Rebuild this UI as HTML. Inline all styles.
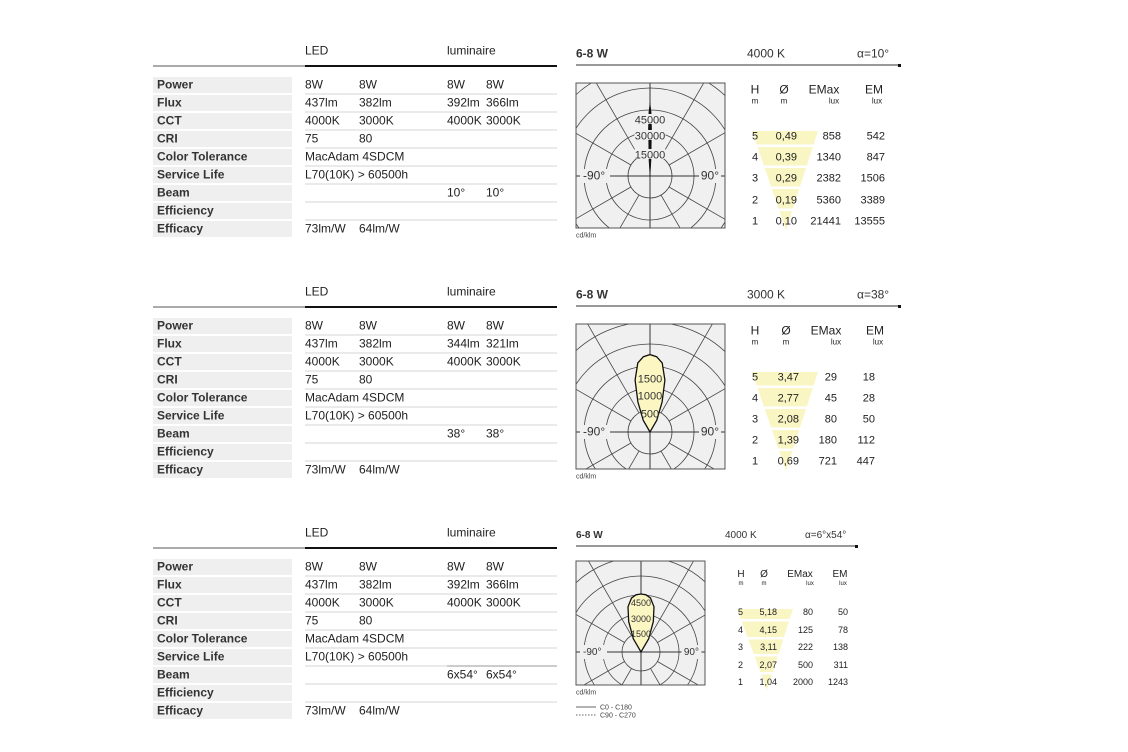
<!DOCTYPE html>
<html><head><meta charset="utf-8"><style>
html,body{margin:0;padding:0;background:#fff;overflow:hidden;width:1128px;height:752px;}
svg{display:block;font-family:"Liberation Sans",sans-serif;}
</style></head><body>
<svg id="s" width="1128" height="752" viewBox="0 0 1128 752" xmlns="http://www.w3.org/2000/svg"></svg>
<script>
// ---- data ----
const rowLabels = ["Power","Flux","CCT","CRI","Color Tolerance","Service Life","Beam","Efficiency","Efficacy"];
const ledVals1 = [["8W","8W"],["437lm","382lm"],["4000K","3000K"],["75","80"],["MacAdam 4SDCM",""],["L70(10K) > 60500h",""],["",""],["",""],["73lm/W","64lm/W"]];
const lumVals1 = [["8W","8W"],["392lm","366lm"],["4000K","3000K"],["",""],["",""],["",""],["10°","10°"],["",""],["",""]];
const lumVals2 = [["8W","8W"],["344lm","321lm"],["4000K","3000K"],["",""],["",""],["",""],["38°","38°"],["",""],["",""]];
const lumVals3 = [["8W","8W"],["392lm","366lm"],["4000K","3000K"],["",""],["",""],["",""],["6x54°","6x54°"],["",""],["",""]];
const heights = ["5","4","3","2","1"];
const diam1 = ["0,49","0,39","0,29","0,19","0,10"];
const emax1 = ["858","1340","2382","5360","21441"];
const em1 = ["542","847","1506","3389","13555"];
const diam2 = ["3,47","2,77","2,08","1,39","0,69"];
const emax2 = ["29","45","80","180","721"];
const em2 = ["18","28","50","112","447"];
const diam3 = ["5,18","4,15","3,11","2,07","1,04"];
const emax3 = ["80","125","222","500","2000"];
const em3 = ["50","78","138","311","1243"];
const lobeAngles1 = [-6,-4,-2,-1,0,1,2,4,6];
const lobeCd1 = [0,12000,38000,52000,59000,52000,38000,12000,0];
const lobeAngles2 = [-45,-30,-22,-16,-10,-5,0,5,10,16,22,30,45];
const lobeCd2 = [0,380,900,1500,1950,2100,2150,2100,1950,1500,900,380,0];
const lobeAngles3 = [-45,-30,-22,-16,-10,-5,0,5,10,16,22,30,45];
const lobeCd3 = [0,1400,3000,4300,5000,5250,5300,5250,5000,4300,3000,1400,0];
const scaleTicks1 = ["15000","30000","45000"];
const scaleTicks2 = ["500","1000","1500"];
const scaleTicks3 = ["1500","3000","4500"];

const NS="http://www.w3.org/2000/svg";
const S=document.getElementById('s');
function mk(tag,attrs,parent,txt){const e=document.createElementNS(NS,tag);for(const k in attrs)e.setAttribute(k,attrs[k]);if(txt!==undefined)e.textContent=txt;(parent||S).appendChild(e);return e;}
function T(x,y,t,opt,parent,name){opt=opt||{};const e=mk('text',{x:x,y:y+1.5,'font-size':opt.fs||12,fill:opt.fill||'#222','text-anchor':opt.a||'start','font-weight':opt.fw||'normal','dominant-baseline':'middle'},parent,t);

return e;}

function leftTable(oy,lum,hasBeamLine){
  const g=mk('g',{});
  
  
  T(305,oy+10,"LED",{},g,'led-header');
  T(447,oy+10,"luminaire",{},g,'luminaire-header');
  mk('line',{x1:153,y1:oy+26,x2:305,y2:oy+26,stroke:'#555','stroke-width':1},g);
  mk('line',{x1:305,y1:oy+26,x2:557,y2:oy+26,stroke:'#111','stroke-width':2},g);
  for(let i=0;i<rowLabels.length;i++){
    const cy=oy+44+i*18;
    const r=mk('rect',{x:153,y:cy-7,width:139,height:16,fill:'#efefef'},g);
    
    
    T(157,cy,rowLabels[i],{fw:'bold',fs:12,fill:'#333'},g,'row-label');
    if(i<rowLabels.length-1) mk('line',{x1:305,y1:cy+10,x2:557,y2:cy+10,stroke:'#d4d4d4','stroke-width':1},g);
    const lv=ledVals1[i];
    T(305,cy,lv[0],{},g,'led-value');T(359,cy,lv[1],{},g,'led-value');
    T(447,cy,lum[i][0],{},g,'luminaire-value');T(486,cy,lum[i][1],{},g,'luminaire-value');
  }
  if(hasBeamLine) mk('line',{x1:447,y1:oy+44+6*18-8,x2:557,y2:oy+44+6*18-8,stroke:'#999','stroke-width':1},g);
}

function polar(p,angles,cds,ticks){
  const g=mk('g',{});
  
  
  const id='c'+p.x+p.y;
  const cp=mk('clipPath',{id:id},g);mk('rect',{x:p.x,y:p.y,width:p.w,height:p.h},cp);
  mk('rect',{x:p.x,y:p.y,width:p.w,height:p.h,fill:'#f0f0f0'},g);
  const gg=mk('g',{'clip-path':'url(#'+id+')'},g);
  for(let k=1;k<=7;k++) mk('circle',{cx:p.cx,cy:p.cy,r:k*p.step,fill:'none',stroke:'#444','stroke-width':0.8},gg);
  for(let a=0;a<360;a+=30){ if(a%90===0 && a!==180) continue;
    const rad=a*Math.PI/180, r0=p.step, r1=300;
    mk('line',{x1:p.cx+r0*Math.sin(rad),y1:p.cy-r0*Math.cos(rad),x2:p.cx+r1*Math.sin(rad),y2:p.cy-r1*Math.cos(rad),stroke:'#444','stroke-width':0.8},gg);}
  mk('line',{x1:p.x,y1:p.cy,x2:p.x+p.w,y2:p.cy,stroke:'#333','stroke-width':1},gg);
  mk('line',{x1:p.cx,y1:p.cy,x2:p.cx,y2:p.y+p.h,stroke:'#333','stroke-width':1},gg);
  mk('line',{x1:p.cx,y1:p.cy,x2:p.cx,y2:p.y,stroke:'#333','stroke-width':1},gg);
  mk('rect',{x:p.x,y:p.y,width:p.w,height:p.h,fill:'none',stroke:'#555','stroke-width':1},g);
  let d='';
  for(let i=0;i<angles.length;i++){const rad=angles[i]*Math.PI/180, r=cds[i]*p.pxPer;
    d+=(i?'L':'M')+(p.cx+r*Math.sin(rad)).toFixed(1)+','+(p.cy-r*Math.cos(rad)).toFixed(1);}
  d+='Z';
  const lobe=mk('path',{d:d,fill:p.lobeFill,stroke:'#111','stroke-width':p.lobeFill==='#111'?0.5:1.3},gg);
  
  
  for(let i=0;i<ticks.length;i++){
    const y=p.cy-p.tickR[i];
    if(p.lobeFill==='#111'){const w=ticks[i].length*p.fs*0.56;mk('rect',{x:p.cx-w/2,y:y-5,width:w,height:10,fill:'#f0f0f0'},g);}
    T(p.cx,y,ticks[i],{a:'middle',fs:p.fs,fill:'#333'},g,'scale-tick');
  }
  mk('rect',{x:p.x+4,y:p.cy-7,width:30*p.sc,height:14,fill:'#f0f0f0'},g);
  mk('rect',{x:p.x+p.w-26*p.sc,y:p.cy-7,width:22*p.sc,height:14,fill:'#f0f0f0'},g);
  T(p.x+7,p.cy-1,"-90°",{fs:p.fs+1,fill:'#333'},g,'angle-label-left');
  T(p.x+p.w-6,p.cy-1,"90°",{fs:p.fs+1,fill:'#333',a:'end'},g,'angle-label-right');
  T(p.x,p.y+p.h+6,"cd/klm",{fs:7,fill:'#444'},g,'unit-label');
}

function photoTable(q,diam,emax,em){
  const g=mk('g',{});
  
  
  const f=mk('polygon',{points:`${q.fx1},${q.fy1} ${q.fx2},${q.fy1} ${q.tipx},${q.tipy}`,fill:'#faf6c4'},g);
  
  
  for(let i=0;i<4;i++){const y=q.rows[i]+ (q.rows[1]-q.rows[0])/2; mk('rect',{x:q.fx1-5,y:y-1,width:q.fx2-q.fx1+10,height:2.5,fill:'#fff'},g);}
  T(q.hx,q.hy,"H",{fs:q.fs+1,a:'middle'},g,'col-h');T(q.dx,q.hy,"Ø",{fs:q.fs+1,a:'middle'},g,'col-diam');
  T(q.ex,q.hy,"EMax",{fs:q.fs+1,a:'middle'},g,'col-emax');T(q.mx,q.hy,"EM",{fs:q.fs+1,a:'middle'},g,'col-em');
  T(q.hx,q.hy+q.fs,"m",{fs:q.fs-3,a:'middle'},g,'unit');T(q.dx,q.hy+q.fs,"m",{fs:q.fs-3,a:'middle'},g,'unit');
  T(q.ex+10,q.hy+q.fs,"lux",{fs:q.fs-3,a:'middle'},g,'unit');T(q.mx+3,q.hy+q.fs,"lux",{fs:q.fs-3,a:'middle'},g,'unit');
  for(let i=0;i<5;i++){const y=q.rows[i];
    T(q.hx-3,y,heights[i],{fs:q.fs},g,'height-value');
    T(q.dx+13,y,diam[i],{fs:q.fs,a:'end'},g,'diameter-value');
    T(q.er,y,emax[i],{fs:q.fs,a:'end'},g,'emax-value');
    T(q.mr,y,em[i],{fs:q.fs,a:'end'},g,'em-value');}
}

function header(oy,x1,x2,x3,lineEnd,t2,t3,fs){
  T(576,oy,"6-8 W",{fs:fs,fw:'bold',fill:'#333'},null,'power-title');
  T(x2,oy,t2,{fs:fs,fill:'#333'},null,'cct-title');
  T(x3,oy,t3,{fs:fs,fill:'#333'},null,'beam-angle-title');
  mk('line',{x1:576,y1:oy+12,x2:lineEnd,y2:oy+12,stroke:'#333','stroke-width':1});
  mk('rect',{x:lineEnd-2,y:oy+11,width:3,height:3,fill:'#111'});
}

leftTable(40,lumVals1,false);
header(53,576,747,857,900,"4000 K","α=10°",12);
polar({x:576,y:83,w:149,h:145,cx:650,cy:176,step:22,pxPer:73/59000,lobeFill:'#111',fs:11,sc:1,tickR:[22,41,57]},lobeAngles1,lobeCd1,scaleTicks1);
photoTable({fx1:752,fx2:818,fy1:131,tipx:786,tipy:230,rows:[135,156,177,199,220],hx:755,dx:784,ex:824,mx:874,hy:89,er:841,mr:885,fs:11},diam1,emax1,em1);

leftTable(281,lumVals2,false);
header(294,576,747,857,900,"3000 K","α=38°",12);
polar({x:576,y:324,w:149,h:145,cx:650,cy:432,step:22,pxPer:18/500,lobeFill:'#fbf6c2',fs:11,sc:1,tickR:[19,37,54]},lobeAngles2,lobeCd2,scaleTicks2);
photoTable({fx1:752,fx2:818,fy1:372,tipx:786,tipy:471,rows:[376,397,418,439,460],hx:755,dx:786,ex:826,mx:875,hy:330,er:837,mr:875,fs:11},diam2,emax2,em2);

leftTable(522,lumVals3,true);
header(534,576,725,805,857,"4000 K","α=6°x54°",10);
polar({x:576,y:561,w:129,h:124,cx:641,cy:652,step:19,pxPer:58/5300,lobeFill:'#fbf6c2',fs:9,sc:0.9,tickR:[19,34,50]},lobeAngles3,lobeCd3,scaleTicks3);
photoTable({fx1:737,fx2:793,fy1:609,tipx:767,tipy:690,rows:[611,629,646,664,681],hx:741,dx:764,ex:800,mx:840,hy:573,er:813,mr:848,fs:9},diam3,emax3,em3);
const lg=mk('g',{});


mk('line',{x1:576,y1:707,x2:596,y2:707,stroke:'#333','stroke-width':0.8},lg);
mk('line',{x1:576,y1:715,x2:596,y2:715,stroke:'#333','stroke-width':0.8,'stroke-dasharray':'1.5,1.5'},lg);
T(600,706,"C0  - C180",{fs:7,fill:'#444'},lg,'legend-c0');
T(600,714,"C90 - C270",{fs:7,fill:'#444'},lg,'legend-c90');
</script>
</body></html>
